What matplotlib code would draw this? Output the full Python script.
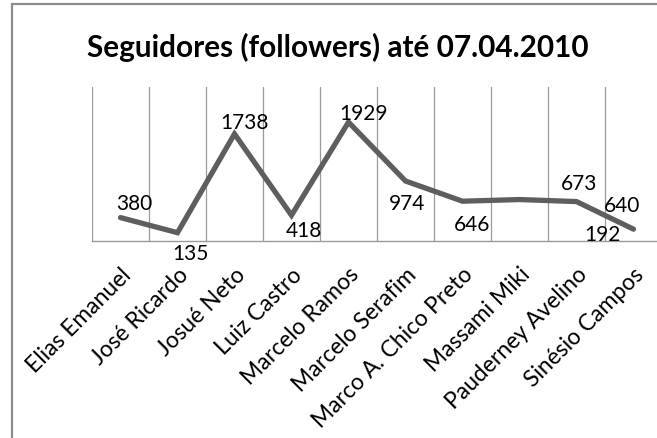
import numpy as np
import matplotlib
matplotlib.use('Agg')
import matplotlib.pyplot as plt
from matplotlib.patches import Rectangle

plt.rcParams['font.family'] = ['Lato', 'DejaVu Sans']

nomes = ['Elias Emanuel', 'José Ricardo', 'Josué Neto', 'Luiz Castro', 'Marcelo Ramos',
         'Marcelo Serafim', 'Marco A. Chico Preto', 'Massami Miki', 'Pauderney Avelino',
         'Sinésio Campos']
seguidores = [380, 135, 1738, 418, 1929, 974, 646, 673, 640, 192]
# label offsets in pixels (dx, dy), the labels were moved by hand in the original
offs = [(14, 15), (13, -20), (10, 12), (12, -15), (15, 9), (2, -22), (10, -23),
        (60, 17), (46, -3), (-31, -5)]

fig = plt.figure(figsize=(6.57, 4.39), dpi=100)
fig.patches.append(Rectangle((12/657, -0.1), 1.0, 0.1 + 1 - 5/439, transform=fig.transFigure,
                             fill=False, edgecolor='#8c8c8c', linewidth=1.6))

ax = fig.add_axes([92/657, 1 - 242/439, 570/657, 154/439])
x = np.arange(len(nomes)) + 0.5
ax.plot(x, seguidores, color='#5e5e5e', lw=3.8, solid_capstyle='round', solid_joinstyle='miter',
        zorder=3)
ax.set_xlim(0, len(nomes))
ax.set_ylim(0, 2500)
for i in range(len(nomes) + 1):
    ax.axvline(i, color='#9a9a9a', lw=0.9, zorder=1)
for s in ['top', 'right', 'left']:
    ax.spines[s].set_visible(False)
ax.spines['bottom'].set_color('#9a9a9a')
ax.spines['bottom'].set_linewidth(1.0)
ax.set_yticks([])
ax.set_xticks(x)
ax.set_xticklabels(nomes, rotation=45, ha='right', rotation_mode='anchor', fontsize=16.5)
ax.tick_params(axis='x', length=0, pad=16)

for xi, v, (dx, dy) in zip(x, seguidores, offs):
    ax.annotate(str(v), (xi, v), xytext=(dx * 0.72, dy * 0.72), textcoords='offset points',
                ha='center', va='center', fontsize=15, color='black')

fig.text(0.514, 0.893, 'Seguidores (followers) até 07.04.2010', ha='center', va='center',
         fontsize=21.4, fontweight='bold')

plt.savefig('out.png', dpi=100)
plt.close()
